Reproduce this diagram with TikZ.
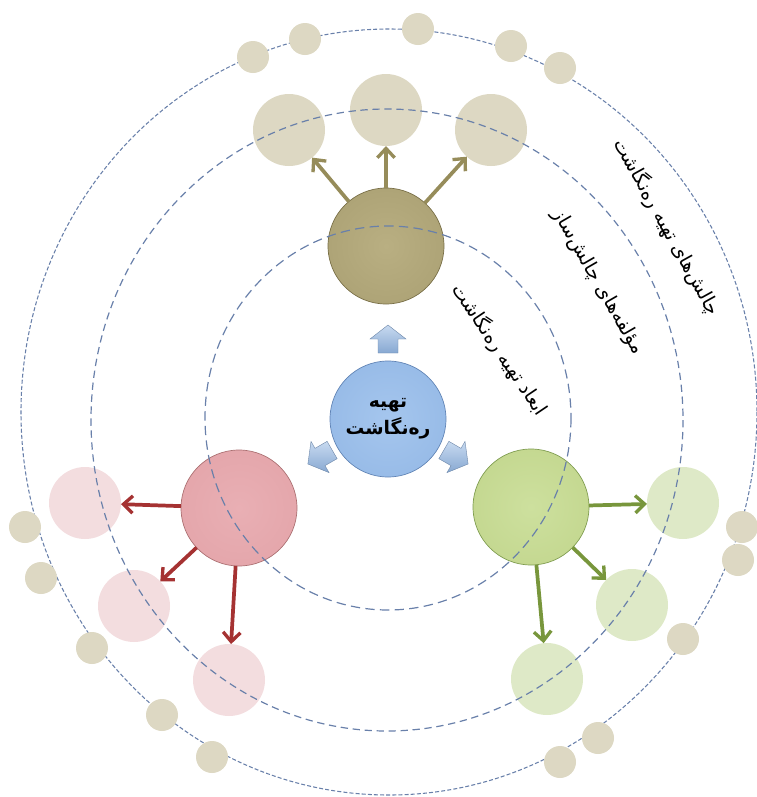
\documentclass[tikz,border=0pt]{standalone}
\usepackage{fontspec}
\usetikzlibrary{arrows.meta}
\newfontfamily\arabicfont[Script=Arabic]{DejaVu Sans}
\TeXXeTstate=1
\definecolor{dashc}{RGB}{105,128,170}
\definecolor{beige}{RGB}{221,216,195}
\definecolor{pinksat}{RGB}{243,221,223}
\definecolor{greensat}{RGB}{222,233,199}
\definecolor{brownarr}{RGB}{150,140,90}
\definecolor{redarr}{RGB}{165,50,50}
\definecolor{greenarr}{RGB}{120,150,60}
\definecolor{bluein}{RGB}{165,198,238}
\definecolor{bluemid}{RGB}{145,182,228}
\definecolor{bluerim}{RGB}{95,130,180}
\definecolor{brownin}{RGB}{185,175,130}
\definecolor{brownmid}{RGB}{168,158,113}
\definecolor{brownrim}{RGB}{118,108,68}
\definecolor{redin}{RGB}{233,175,180}
\definecolor{redmid}{RGB}{226,162,167}
\definecolor{redrim}{RGB}{170,110,112}
\definecolor{greenin}{RGB}{205,224,158}
\definecolor{greenmid}{RGB}{192,212,138}
\definecolor{greenrim}{RGB}{125,155,78}
\definecolor{barrin}{RGB}{200,218,240}
\definecolor{barrout}{RGB}{135,168,210}
\pgfdeclareradialshading{bluesh}{\pgfpoint{0bp}{0bp}}{color(0bp)=(bluein); color(38bp)=(bluemid); color(47bp)=(bluemid!80!bluerim); color(50bp)=(bluerim)}
\pgfdeclareradialshading{brownsh}{\pgfpoint{0bp}{0bp}}{color(0bp)=(brownin); color(38bp)=(brownmid); color(47bp)=(brownmid!70!brownrim); color(50bp)=(brownrim)}
\pgfdeclareradialshading{redsh}{\pgfpoint{0bp}{0bp}}{color(0bp)=(redin); color(38bp)=(redmid); color(47bp)=(redmid!75!redrim); color(50bp)=(redrim)}
\pgfdeclareradialshading{greensh}{\pgfpoint{0bp}{0bp}}{color(0bp)=(greenin); color(38bp)=(greenmid); color(47bp)=(greenmid!75!greenrim); color(50bp)=(greenrim)}
\tikzset{
  mainnode/.style={circle, minimum size=87pt, inner sep=0pt, outer sep=0pt},
  satnode/.style={circle, minimum size=54pt, inner sep=0pt, outer sep=0pt, fill=#1},
  dotnode/.style={circle, minimum size=24pt, inner sep=0pt, outer sep=0pt, fill=beige},
  conn/.style={line width=2.8pt, draw=#1, -{Straight Barb[length=7pt,width=13pt,line width=2.5pt]}},
  ringouter/.style={draw=dashc, line width=0.8pt, dash pattern=on 3pt off 1.6pt},
  ringmid/.style={draw=dashc, line width=0.9pt, dash pattern=on 5.5pt off 3.5pt},
  ringinner/.style={draw=dashc, line width=0.9pt, dash pattern=on 7pt off 4pt},
  blockarr/.style={shading=axis, top color=barrin, bottom color=barrout, draw=barrout!80!black, line width=0.3pt},
  ringlabel/.style={font=\arabicfont\fontsize{14.5}{16}\selectfont, inner sep=0pt},
}
\begin{document}
\begin{tikzpicture}[x=0.75pt,y=-0.75pt]
\path[use as bounding box] (0,0) rectangle (757,797);
% satellites
\node[satnode=beige] (bt1) at (289,130) {};
\node[satnode=beige] (bt2) at (386,110) {};
\node[satnode=beige] (bt3) at (491,130) {};
\node[satnode=pinksat] (rl1) at (85,503) {};
\node[satnode=pinksat] (rl2) at (134,606) {};
\node[satnode=pinksat] (rl3) at (229,680) {};
\node[satnode=greensat] (gr1) at (683,503) {};
\node[satnode=greensat] (gr2) at (632,605) {};
\node[satnode=greensat] (gr3) at (547,679) {};
% main nodes
\node[mainnode, shading=brownsh, draw=brownrim, line width=0.5pt] (top) at (386,246) {};
\node[mainnode, shading=redsh, draw=redrim, line width=0.5pt] (lft) at (239,508) {};
\node[mainnode, shading=greensh, draw=greenrim, line width=0.5pt] (rgt) at (531,507) {};
% rings
\draw[ringinner] (388,418) ellipse [x radius=183, y radius=192];
\draw[ringmid] (387,420) ellipse [x radius=296, y radius=311];
\draw[ringouter] (389,412) ellipse [x radius=368, y radius=383];
% small dots on outer ring
\foreach \px/\py [count=\i] in {253/57,305/39,418/29,511/46,560/68,25/527,41/578,92/648,162/715,212/757,742/527,738/560,683/639,598/738,560/762}
  \node[dotnode] (dot\i) at (\px,\py) {};
% center node
\node[mainnode, shading=bluesh, draw=bluerim, line width=0.5pt, align=center,
      font=\arabicfont\bfseries\fontsize{14}{20}\selectfont] (ctr) at (388,419)
      {\beginR تهیه\endR\\\beginR ره‌نگاشت\endR};
% block arrows
\foreach \px/\py/\ang in {388/339/90, 320/457/210, 456/457/-30}{
  \begin{scope}[shift={(\px,\py)}, rotate=\ang]
    \path[blockarr] (-14,-10) -- (0,-10) -- (0,-18) -- (14,0) -- (0,18) -- (0,10) -- (-14,10) -- cycle;
  \end{scope}
}
% connectors
\draw[conn=brownarr] (top) -- (bt1);
\draw[conn=brownarr] (top) -- (bt2);
\draw[conn=brownarr] (top) -- (bt3);
\draw[conn=redarr] (lft) -- (rl1);
\draw[conn=redarr] (lft) -- (rl2);
\draw[conn=redarr] (lft) -- (rl3);
\draw[conn=greenarr] (rgt) -- (gr1);
\draw[conn=greenarr] (rgt) -- (gr2);
\draw[conn=greenarr] (rgt) -- (gr3);
% ring labels
\node[ringlabel, rotate=-56] (lab1) at (500,350) {\beginR ابعاد تهیه ره‌نگاشت\endR};
\node[ringlabel, rotate=-60] (lab2) at (598,282) {\beginR مؤلفه‌های چالش‌ساز\endR};
\node[ringlabel, rotate=-61] (lab3) at (667,227) {\beginR چالش‌های تهیه ره‌نگاشت\endR};
\end{tikzpicture}
\end{document}
